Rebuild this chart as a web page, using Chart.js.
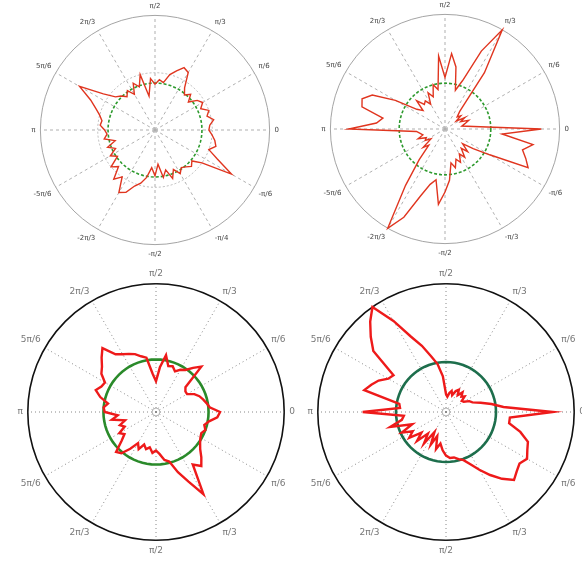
<!DOCTYPE html>
<html>
<head>
<meta charset="utf-8">
<script src="https://cdn.jsdelivr.net/npm/chart.js@4.4.0/dist/chart.umd.min.js"></script>
<style>
  html, body { margin: 0; padding: 0; background: #fff; overflow: hidden; }
  body { width: 582px; height: 563px; position: relative; }
  canvas { position: absolute; }
</style>
</head>
<body>
<canvas id="topLeft" width="300" height="256" style="left:5px; top:2px;"></canvas>
<canvas id="topRight" width="300" height="256" style="left:295px; top:1px;"></canvas>
<canvas id="bottomLeft" width="320" height="288" style="left:-4px; top:269px;"></canvas>
<canvas id="bottomRight" width="320" height="288" style="left:286px; top:269px;"></canvas>
<script>
// Spoke labels, listed clockwise starting at the right-hand (east) spoke
const topLeftSpokes = ['0', '-π/6', '-π/4', '-π/2', '-2π/3', '-5π/6', 'π', '5π/6', '2π/3', 'π/2', 'π/3', 'π/6'];
const topRightSpokes = ['0', '-π/6', '-π/3', '-π/2', '-2π/3', '-5π/6', 'π', '5π/6', '2π/3', 'π/2', 'π/3', 'π/6'];
const bottomSpokes = ['0', 'π/6', 'π/3', 'π/2', '2π/3', '5π/6', 'π', '5π/6', '2π/3', 'π/2', 'π/3', 'π/6'];

// Radius (fraction of outer ring) every 5 degrees, clockwise from east
const topLeftValues = [
    0.47, 0.50, 0.53, 0.55, 0.50, 0.60, 0.77, 0.50, 0.42, 0.45, 0.42, 0.40,
    0.44, 0.38, 0.45, 0.36, 0.42, 0.30, 0.40, 0.33, 0.42, 0.48, 0.52, 0.60,
    0.63, 0.50, 0.56, 0.45, 0.50, 0.40, 0.45, 0.38, 0.44, 0.36, 0.45, 0.42,
    0.44, 0.48, 0.47, 0.50, 0.55, 0.62, 0.76, 0.55, 0.45, 0.42, 0.38, 0.42,
    0.36, 0.45, 0.40, 0.50, 0.30, 0.45, 0.40, 0.44, 0.42, 0.50, 0.55, 0.60,
    0.58, 0.45, 0.40, 0.44, 0.38, 0.45, 0.48, 0.44, 0.50, 0.47, 0.52, 0.48
];
const topRightValues = [
    0.84, 0.50, 0.78, 0.70, 0.75, 0.80, 0.45, 0.30, 0.20, 0.28, 0.22, 0.30,
    0.25, 0.32, 0.28, 0.35, 0.30, 0.45, 0.55, 0.66, 0.45, 0.50, 0.62, 0.85,
    1.00, 0.60, 0.35, 0.20, 0.25, 0.15, 0.20, 0.18, 0.25, 0.20, 0.22, 0.25,
    0.84, 0.60, 0.55, 0.75, 0.77, 0.70, 0.50, 0.30, 0.25, 0.35, 0.28, 0.30,
    0.25, 0.35, 0.30, 0.40, 0.35, 0.64, 0.45, 0.66, 0.55, 0.35, 0.45, 0.75,
    1.00, 0.60, 0.20, 0.15, 0.18, 0.12, 0.20, 0.15, 0.22, 0.18, 0.15, 0.25
];
const bottomLeftValues = [
    0.50, 0.48, 0.42, 0.39, 0.41, 0.39, 0.40, 0.42, 0.45, 0.50, 0.55, 0.50,
    0.74, 0.60, 0.50, 0.40, 0.38, 0.33, 0.30, 0.32, 0.28, 0.30, 0.27, 0.32,
    0.28, 0.35, 0.42, 0.44, 0.35, 0.30, 0.33, 0.27, 0.30, 0.25, 0.35, 0.30,
    0.40, 0.41, 0.38, 0.45, 0.50, 0.47, 0.46, 0.52, 0.55, 0.60, 0.65, 0.55,
    0.52, 0.50, 0.48, 0.45, 0.43, 0.30, 0.24, 0.35, 0.45, 0.37, 0.38, 0.35,
    0.38, 0.40, 0.45, 0.50, 0.30, 0.28, 0.28, 0.33, 0.36, 0.38, 0.40, 0.42
];
const bottomRightValues = [
    0.83, 0.50, 0.50, 0.60, 0.68, 0.70, 0.73, 0.70, 0.72, 0.75, 0.68, 0.60,
    0.52, 0.45, 0.40, 0.38, 0.36, 0.36, 0.34, 0.30, 0.25, 0.30, 0.20, 0.28,
    0.18, 0.30, 0.22, 0.32, 0.25, 0.35, 0.30, 0.38, 0.28, 0.45, 0.35, 0.33,
    0.65, 0.36, 0.37, 0.66, 0.62, 0.58, 0.52, 0.50, 0.74, 0.83, 0.92, 1.00,
    0.82, 0.65, 0.55, 0.45, 0.38, 0.28, 0.14, 0.12, 0.15, 0.17, 0.14, 0.18,
    0.20, 0.16, 0.20, 0.17, 0.19, 0.15, 0.16, 0.20, 0.22, 0.28, 0.36, 0.45
];

// Reference circle radii (fraction of outer ring)
const topLeftCircle = 0.41;
const topRightCircle = 0.40;
const bottomLeftCircle = 0.41;
const bottomRightCircle = 0.39;

// Rings drawn by the radial grid
const topLeftRings = [0, 0.02, 0.5, 1];
const topRightRings = [0, 0.02, 1];
const bottomRings = [0, 0.03, 1];

const topStyle = {
    red: '#e0351f', redWidth: 1.4,
    green: '#2e9a2e', greenWidth: 1.6, greenDash: [3, 2],
    ring: '#9a9a9a', ringWidth: 0.9, innerDash: [2, 2],
    spoke: '#b0b0b0', spokeDash: [3, 3],
    labelSize: 7, labelColor: '#444'
};
const bottomStyle = {
    red: '#ee1a1a', redWidth: 2.4,
    green: '#2a8a2a', greenWidth: 2.6, greenDash: [],
    ring: '#111', ringWidth: 1.6, innerDash: [],
    spoke: '#888', spokeDash: [1, 3],
    labelSize: 9, labelColor: '#777'
};

function buildLabels(spokes) {
    const labels = [];
    for (let i = 0; i < 72; i++) {
        labels.push(i % 6 === 0 ? spokes[i / 6] : '');
    }
    return labels;
}

function drawPolar(id, values, spokes, circleRadius, rings, style, greenColor) {
    const ctx = document.getElementById(id).getContext('2d');
    const labels = buildLabels(spokes);
    const circle = labels.map(() => circleRadius);

    new Chart(ctx, {
        type: 'radar',
        data: {
            labels: labels,
            datasets: [
                {
                    data: values,
                    borderColor: style.red,
                    borderWidth: style.redWidth,
                    pointRadius: 0,
                    fill: false,
                    tension: 0
                },
                {
                    data: circle,
                    borderColor: greenColor || style.green,
                    borderWidth: style.greenWidth,
                    borderDash: style.greenDash,
                    pointRadius: 0,
                    fill: false,
                    tension: 0
                }
            ]
        },
        options: {
            responsive: false,
            animation: false,
            plugins: {
                legend: { display: false },
                tooltip: { enabled: false }
            },
            scales: {
                r: {
                    min: 0,
                    max: 1,
                    startAngle: 90,
                    ticks: { display: false },
                    afterBuildTicks: function(scale) {
                        scale.ticks = rings.map(v => ({ value: v }));
                    },
                    grid: {
                        circular: true,
                        color: function(c) {
                            return c.index === rings.length - 1 ? style.ring : '#aaa';
                        },
                        lineWidth: function(c) {
                            return c.index === rings.length - 1 ? style.ringWidth : 0.8;
                        }
                    },
                    border: {
                        dash: function(c) {
                            return c.index === rings.length - 1 ? [] : style.innerDash;
                        }
                    },
                    angleLines: {
                        color: function(c) {
                            return c.index % 6 === 0 ? style.spoke : 'rgba(0,0,0,0)';
                        },
                        lineWidth: function(c) {
                            return c.index % 6 === 0 ? 1 : 0;
                        },
                        borderDash: style.spokeDash
                    },
                    pointLabels: {
                        color: style.labelColor,
                        padding: 5,
                        font: { family: 'DejaVu Sans', size: style.labelSize }
                    }
                }
            }
        }
    });
}

drawPolar('topLeft', topLeftValues, topLeftSpokes, topLeftCircle, topLeftRings, topStyle);
drawPolar('topRight', topRightValues, topRightSpokes, topRightCircle, topRightRings, topStyle);
drawPolar('bottomLeft', bottomLeftValues, bottomSpokes, bottomLeftCircle, bottomRings, bottomStyle, '#2a8a2a');
drawPolar('bottomRight', bottomRightValues, bottomSpokes, bottomRightCircle, bottomRings, bottomStyle, '#1d6e4c');
</script>
</body>
</html>
